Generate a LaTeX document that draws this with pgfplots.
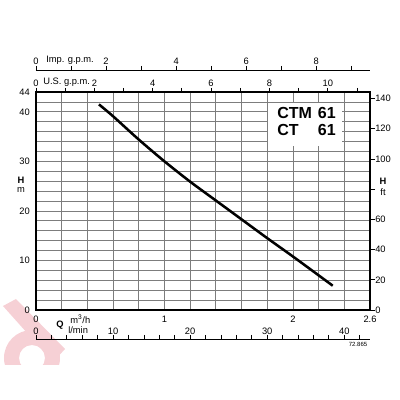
\documentclass[border=0pt]{standalone}
\usepackage{fontspec}
\setmainfont{Liberation Sans}
\usepackage{pgfplots}
\pgfplotsset{compat=1.18}

\definecolor{wmark}{RGB}{246,208,213}
\definecolor{gridc}{RGB}{125,125,125}
\newcommand\sm{\fontsize{7}{8}\selectfont}

% all axes share the same box, 1 px of the sheet = 0.75pt
\pgfplotsset{
  pumpbase/.style={
    scale only axis, width=250.5pt, height=163.5pt,
    at={(0,0)}, anchor=south west,
    xmin=0, xmax=2.6,
    /pgf/number format/assume math mode=true,
    tick label style={font=\sm, inner sep=0pt},
  },
  scaleline/.style={
    pumpbase, ymin=0, ymax=1,
    axis y line=none, axis x line=top, x axis line style={-, line width=0.7pt},
    tick align=outside, major tick length=3pt,
    xtick style={black, line width=0.6pt},
  },
}

\begin{document}
\begin{tikzpicture}
% sheet in pixels, origin top left
\begin{scope}[x=0.75pt, y=-0.75pt, shift={(-27pt,232.5pt)}]
  \path (0,0) rectangle (400,400);
  \begin{scope}
    \clip (0,290) rectangle (70,364);
    \fill[wmark] (3,306) -- (16,299) -- (65,349) -- (53,362) -- cycle;
    \fill[wmark, even odd rule] (32,358) circle (28) (32,358) circle (13);
  \end{scope}
\end{scope}

% main chart, Q in m3/h and H in m
\begin{axis}[pumpbase, ymin=0, ymax=44,
  xtick={0,1,2,2.6}, xticklabels={0,1,2,2.6},
  minor xtick={0.2,0.4,0.6,0.8,1.2,1.4,1.6,1.8,2.2,2.4},
  ytick={0,10,20,30,40,44},
  minor ytick={2,4,6,8,12,14,16,18,22,24,26,28,32,34,36,38,42},
  grid=both,
  major grid style={draw=gridc, line width=0.6pt},
  minor grid style={draw=gridc, line width=0.6pt},
  major tick length=0pt, minor tick length=0pt,
  axis line style={line width=0.8pt},
  xticklabel style={anchor=center, yshift=-6.75pt},
  yticklabel style={anchor=east, xshift=-4.5pt},
]
\addplot[black, line width=1.9pt, smooth] coordinates {
  (0.49,41.5) (0.6,39.1) (0.8,34.4) (1.0,30.0) (1.2,25.9) (1.4,22.1)
  (1.6,18.3) (1.8,14.5) (2.0,10.8) (2.2,7.0) (2.31,4.9)
};
\end{axis}

% H in ft
\begin{axis}[pumpbase, ymin=0, ymax=144.357,
  axis x line=none, axis y line=right, y axis line style={-, line width=0.8pt},
  ytick={0,20,...,140}, yticklabels={0,20,40,60,,100,120,140},
  tick align=outside, major tick length=3.75pt,
  ytick style={black, line width=0.6pt},
  yticklabel style={anchor=west, xshift=0pt},
]
\addplot[draw=none] coordinates {(0,0)};
\end{axis}

% U.S. g.p.m.
\begin{axis}[scaleline, xmin=0, xmax=11.4475,
  xtick={0,1,...,11}, xticklabels={0,,2,,4,,6,,8,,10,},
  xticklabel style={anchor=center, yshift=3.75pt}]
\addplot[draw=none] coordinates {(0,0)};
\end{axis}

% Imp. g.p.m.
\begin{axis}[scaleline, height=180pt, xmin=0, xmax=9.532,
  xtick={0,1,...,9}, xticklabels={0,,2,,4,,6,,8,},
  xticklabel style={anchor=center, yshift=3.75pt}]
\addplot[draw=none] coordinates {(0,0)};
\end{axis}

% l/min
\begin{axis}[scaleline, at={(0,-21.75pt)}, anchor=north west, height=10pt,
  xmin=0, xmax=43.333, xtick={0,2,...,42},
  xticklabels={0,,,,,10,,,,,20,,,,,30,,,,,40,},
  xticklabel style={anchor=center, yshift=3pt}]
\addplot[draw=none] coordinates {(0,0)};
\end{axis}

\begin{scope}[x=0.75pt, y=-0.75pt, shift={(-27pt,232.5pt)}]
  \fill[white] (268,103) rectangle (342,146);
  \begin{scope}[font=\fontsize{12}{12}\selectfont\bfseries]
    \node[anchor=base west, inner sep=0pt] at (277,119) {CTM};
    \node[anchor=base east, inner sep=0pt] at (336,119) {61};
    \node[anchor=base west, inner sep=0pt] at (277,136) {CT};
    \node[anchor=base east, inner sep=0pt] at (336,136) {61};
  \end{scope}
  \begin{scope}[font=\sm, inner sep=0pt]
    \node[anchor=west] at (46,60) {Imp. g.p.m.};
    \node[anchor=west] at (43,82) {U.S. g.p.m.};
    \node at (21,180) {\bfseries H};
    \node at (21,190) {m};
    \node at (383,181) {\bfseries H};
    \node at (383,192) {ft};
    \node[anchor=west] at (70,319) {m\textsuperscript{3}/h};
    \node at (60,325) {\bfseries Q};
    \node[anchor=west] at (68,330) {l/min};
    \node[font=\fontsize{4.5}{5}\selectfont] at (358,344) {72.865};
  \end{scope}
\end{scope}
\end{tikzpicture}
\end{document}
